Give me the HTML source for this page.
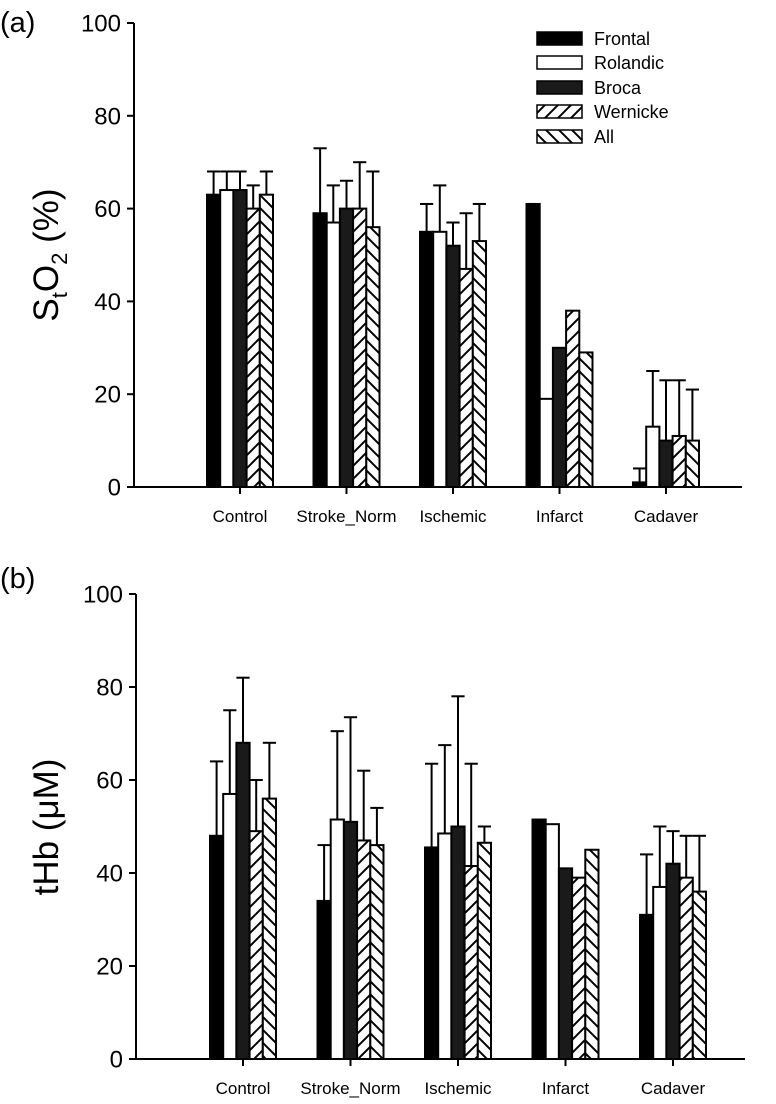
<!DOCTYPE html>
<html><head><meta charset="utf-8"><style>
html,body{margin:0;padding:0;background:#fff}
svg{display:block;font-family:"Liberation Sans",Arial,sans-serif}
</style></head><body>
<svg id="chart" width="776" height="1104" viewBox="0 0 776 1104">
<defs>
<pattern id="hatchF" patternUnits="userSpaceOnUse" width="13" height="13"><rect width="13" height="13" fill="#fff"/><path d="M-3,16 L16,-3 M-3,3 L3,-3 M10,16 L16,10" stroke="#000" stroke-width="2"/></pattern>
<pattern id="hatchB" patternUnits="userSpaceOnUse" width="13" height="13"><rect width="13" height="13" fill="#fff"/><path d="M-3,-3 L16,16 M10,-3 L16,3 M-3,10 L3,16" stroke="#000" stroke-width="2"/></pattern>
</defs>
<text x="0" y="32" font-size="29">(a)</text>
<text x="0" y="588" font-size="29">(b)</text>
<text transform="translate(58,255) rotate(-90)" text-anchor="middle" font-size="35">S<tspan font-size="22" dy="9">t</tspan><tspan dy="-9">O</tspan><tspan font-size="22" dy="9">2</tspan><tspan dy="-9"> (%)</tspan></text>
<text transform="translate(58,827) rotate(-90)" text-anchor="middle" font-size="35">tHb (μM)</text>
<g>
<rect x="537" y="32" width="45" height="13" fill="#000" stroke="#000" stroke-width="1.5"/>
<text x="594" y="45" font-size="18">Frontal</text>
<rect x="537" y="56" width="45" height="13" fill="#fff" stroke="#000" stroke-width="1.5"/>
<text x="594" y="69" font-size="18">Rolandic</text>
<rect x="537" y="81" width="45" height="13" fill="#1a1a1a" stroke="#000" stroke-width="1.5"/>
<text x="594" y="94" font-size="18">Broca</text>
<rect x="537" y="105" width="45" height="13" fill="url(#hatchF)" stroke="#000" stroke-width="1.5"/>
<text x="594" y="118" font-size="18">Wernicke</text>
<rect x="537" y="130" width="45" height="13" fill="url(#hatchB)" stroke="#000" stroke-width="1.5"/>
<text x="594" y="143" font-size="18">All</text>
</g>
</svg>
<script>
const categories = ["Control","Stroke_Norm","Ischemic","Infarct","Cadaver"];
const seriesNames = ["frontal","rolandic","broca","wernicke","all"];
const yTicks = [0,20,40,60,80,100];
// Panel a: StO2 (%)
const so2Frontal = [63,59,55,61,1];
const so2Rolandic = [64,57,55,19,13];
const so2Broca = [64,60,52,30,10];
const so2Wernicke = [60,60,47,38,11];
const so2All = [63,56,53,29,10];
const so2ErrFrontal = [68,73,61,null,4];
const so2ErrRolandic = [68,65,65,null,25];
const so2ErrBroca = [68,66,57,null,23];
const so2ErrWernicke = [65,70,59,null,23];
const so2ErrAll = [68,68,61,null,21];
// Panel b: tHb (uM)
const thbFrontal = [48,34,45.5,51.5,31];
const thbRolandic = [57,51.5,48.5,50.5,37];
const thbBroca = [68,51,50,41,42];
const thbWernicke = [49,47,41.5,39,39];
const thbAll = [56,46,46.5,45,36];
const thbErrFrontal = [64,46,63.5,null,44];
const thbErrRolandic = [75,70.5,67.5,null,50];
const thbErrBroca = [82,73.5,78,null,49];
const thbErrWernicke = [60,62,63.5,null,48];
const thbErrAll = [68,54,50,null,48];

const NS="http://www.w3.org/2000/svg";
const svg=document.getElementById('chart');
const fills=["#000","#fff","#1a1a1a","url(#hatchF)","url(#hatchB)"];
function mk(tag,attrs,parent){const e=document.createElementNS(NS,tag);for(const k in attrs)e.setAttribute(k,attrs[k]);(parent||svg).appendChild(e);return e;}

function panel(id,y0,y100,xLeft,xRight,firstCenter,spacing,vals,errs){
  const g=mk('g',{});
  
  
  const yS=v=>y0-(v/100)*(y0-y100);
  const xC=i=>firstCenter+i*spacing;
  const bw=13.2;
  const ya=mk('line',{x1:xLeft,y1:y100,x2:xLeft,y2:y0,stroke:'#000','stroke-width':2},g);
  
  
  const xa=mk('line',{x1:xLeft,y1:y0,x2:xRight,y2:y0,stroke:'#000','stroke-width':2},g);
  
  
  yTicks.forEach(t=>{
    mk('line',{x1:xLeft-7,y1:yS(t),x2:xLeft,y2:yS(t),stroke:'#000','stroke-width':2},g);
    const tl=mk('text',{x:xLeft-13,y:yS(t)+8.5,'text-anchor':'end','font-size':24},g);
    tl.textContent=t;
    
    
  });
  categories.forEach((c,i)=>{
    mk('line',{x1:xC(i),y1:y0,x2:xC(i),y2:y0+7,stroke:'#000','stroke-width':2},g);
    const cl=mk('text',{x:xC(i),y:y0+35,'text-anchor':'middle','font-size':17},g);
    cl.textContent=c;
    
    
    vals.forEach((s,k)=>{
      const x=xC(i)-2.5*bw+k*bw;
      const top=yS(s[i]);
      const e=errs[k][i];
      if(e!==null){
        mk('line',{x1:x+bw/2,y1:top,x2:x+bw/2,y2:yS(e),stroke:'#000','stroke-width':2},g);
        mk('line',{x1:x,y1:yS(e),x2:x+bw,y2:yS(e),stroke:'#000','stroke-width':2},g);
      }
      const r=mk('rect',{x:x,y:top,width:bw,height:y0-top,fill:fills[k],stroke:'#000','stroke-width':2},g);
      
      
    });
  });
}
panel('panel-a',487,23,134,742,240,106.5,
  [so2Frontal,so2Rolandic,so2Broca,so2Wernicke,so2All],
  [so2ErrFrontal,so2ErrRolandic,so2ErrBroca,so2ErrWernicke,so2ErrAll]);
panel('panel-b',1059,594,136,745,243,107.5,
  [thbFrontal,thbRolandic,thbBroca,thbWernicke,thbAll],
  [thbErrFrontal,thbErrRolandic,thbErrBroca,thbErrWernicke,thbErrAll]);
</script>
</body></html>
